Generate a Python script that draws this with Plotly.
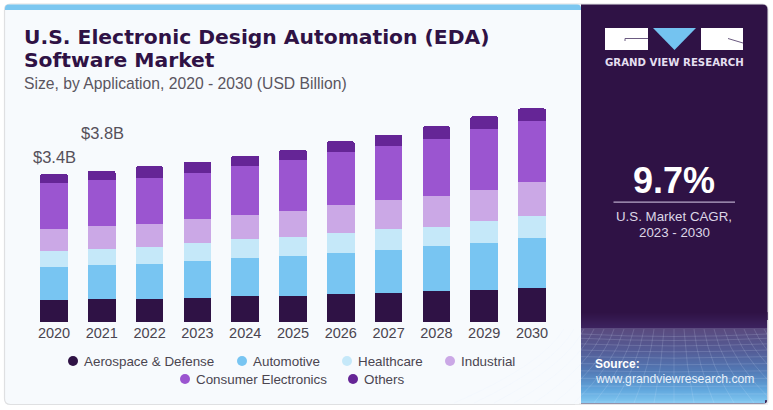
import plotly.graph_objects as go

W, H = 773, 410
years = ["2020","2021","2022","2023","2024","2025","2026","2027","2028","2029","2030"]
aerospace = [.507,.530,.539,.562,.592,.608,.645,.668,.707,.747,.783]
automotive = [.770,.793,.806,.843,.892,.912,.954,1.0,1.044,1.083,1.159]
healthcare = [.353,.369,.376,.408,.422,.438,.461,.468,.447,.491,.507]
industrial = [.507,.521,.546,.553,.569,.608,.636,.668,.698,.721,.767]
consumer = [1.067,1.053,1.060,1.067,1.120,1.159,1.214,1.251,1.329,1.415,1.422]
others = [.200,.214,.260,.253,.230,.237,.253,.263,.283,.283,.283]
names = ["Aerospace & Defense","Automotive","Healthcare","Industrial","Consumer Electronics","Others"]
colors = ["#2f1245","#78c5f2","#c5e8f9","#cba8e6","#9b55d0","#652596"]
series = [aerospace, automotive, healthcare, industrial, consumer, others]

def px(x): return x / W
def py(y): return 1 - y / H
def rrect(x0, y0, x1, y1, r, tl=True, tr=True, br=True, bl=True):
    a, b, c, d = [r if f else 0 for f in (tl, tr, br, bl)]
    X, Y = px, py
    return (f"M{X(x0+a)},{Y(y0)} L{X(x1-b)},{Y(y0)} Q{X(x1)},{Y(y0)} {X(x1)},{Y(y0+b)} "
            f"L{X(x1)},{Y(y1-c)} Q{X(x1)},{Y(y1)} {X(x1-c)},{Y(y1)} L{X(x0+d)},{Y(y1)} "
            f"Q{X(x0)},{Y(y1)} {X(x0)},{Y(y1-d)} L{X(x0)},{Y(y0+a)} Q{X(x0)},{Y(y0)} {X(x0+a)},{Y(y0)} Z")

fig = go.Figure()
for n, c, s in zip(names, colors, series):
    fig.add_trace(go.Bar(x=years, y=s, name=n, marker=dict(color=c, line=dict(width=0)), showlegend=False))

shapes = []
def rect(x0, y0, x1, y1, color, layer="below"):
    shapes.append(dict(type="rect", xref="paper", yref="paper", x0=px(x0), x1=px(x1), y0=py(y0), y1=py(y1),
                       fillcolor=color, line=dict(width=0), layer=layer))
def pth(d, fill=None, line=None, lw=0, layer="below"):
    s = dict(type="path", xref="paper", yref="paper", path=d, layer=layer, line=dict(width=lw, color=line or "rgba(0,0,0,0)"))
    if fill: s["fillcolor"] = fill
    shapes.append(s)

# card
pth(rrect(4.5, 4, 768, 404.5, 6), fill="#f7fafd", line="#dfe0e2", lw=1.2)
pth(rrect(5, 4.5, 581, 10, 4, br=False, bl=False), fill="#7cc7f0")
pth(rrect(581, 4.5, 767.5, 404, 5, tl=False, bl=False), fill="#2f1245")

# gradient of panel foot
stops = [(312, (47,18,69)), (327, (60,34,94)), (328, (90,74,126)), (350, (84,92,150)),
         (370, (82,120,180)), (390, (98,168,222)), (403, (132,202,242))]
def lerp(y):
    for (a, ca), (b, cb) in zip(stops, stops[1:]):
        if a <= y <= b:
            t = (y - a) / (b - a)
            return "rgb(%d,%d,%d)" % tuple(round(p + (q - p) * t) for p, q in zip(ca, cb))
    return "rgb(47,18,69)"
for y in range(312, 403):
    rect(581, y, 765 if y > 399 else 767.5, y + 1.2, lerp(y))
# mesh
for i in range(11):
    y = 334 + 68 * (i / 10) ** 1.2
    d = f"M{px(581)},{py(y)} Q{px(674)},{py(y + 5 - i*.5)} {px(767)},{py(y)}"
    pth(d, line="rgba(225,235,255,0.2)", lw=0.8)
for i in range(-11, 12):
    xt = 674 + i * 10
    xb = 674 + i * 20
    d = f"M{px(xt)},{py(329)} Q{px(xt + i*2)},{py(365)} {px(xb)},{py(403)}"
    pth(d, line="rgba(225,235,255,0.2)", lw=0.8)
rect(768.6, 320, 773, 410, "#ffffff", layer="below")
rect(575, 404.8, 773, 410, "#ffffff", layer="below")
rect(579, 403.4, 768, 404.6, "#e3e4e6", layer="below")
rect(767.2, 320, 768.4, 403, "#e3e4e6", layer="below")

# logo
rect(605, 28, 648, 50, "#ffffff")
pth(f"M{px(625)},{py(41)} L{px(625)},{py(38.5)} L{px(648)},{py(38.5)}", line="#6b5a80", lw=1)
pth(f"M{px(653)},{py(28)} L{px(696)},{py(28)} L{px(674.5)},{py(50)} Z", fill="#74c3f0")
rect(701, 28, 743, 50, "#ffffff")
pth(f"M{px(728)},{py(38.5)} L{px(743)},{py(43)}", line="#6b5a80", lw=1)

# CAGR rule
rect(613.5, 201.5, 735, 202.8, "#b9a9c9")

# legend markers
legend_pos = [(73,361),(242,361),(347,361),(450,361),(185,379),(353,379)]
for (x, y), c in zip(legend_pos, colors):
    shapes.append(dict(type="circle", xref="paper", yref="paper", x0=px(x-5), x1=px(x+5), y0=py(y-5), y1=py(y+5),
                       fillcolor=c, line=dict(width=0), layer="below"))

ann = []
def text(x, y, s, size, color, anchor="left", font="Liberation Sans"):
    ann.append(dict(xref="paper", yref="paper", x=px(x - 2 if anchor == "left" else x), y=py(y), text=s, showarrow=False,
                    xanchor=anchor, yanchor="middle", font=dict(size=size, color=color, family=font)))

text(24, 37, "<b>U.S. Electronic Design Automation (EDA)</b>", 20.3, "#2f1245", font="DejaVu Sans")
text(24, 60, "<b>Software Market</b>", 20.3, "#2f1245", font="DejaVu Sans")
text(24, 84, "Size, by Application, 2020 - 2030 (USD Billion)", 15.7, "#5a5560")
text(54, 157, "$3.4B", 16.5, "#55505a", "center")
text(102, 133, "$3.8B", 16.5, "#55505a", "center")
for (x, y), n in zip(legend_pos, names):
    text(x + 11, y, n, 13.4, "#4a4550")
text(674, 62, "<b>GRAND VIEW RESEARCH</b>", 10.2, "#e4dff0", "center", "DejaVu Sans")
text(674, 181, "<b>9.7%</b>", 36, "#ffffff", "center")
text(674, 216, "U.S. Market CAGR,", 13.3, "#ddd6e6", "center")
text(674, 233, "2023 - 2030", 13.3, "#ddd6e6", "center")
text(595, 364, "<b>Source:</b>", 12, "#ffffff")
text(595, 379, "www.grandviewresearch.com", 12.2, "#e8f2fb")

fig.update_layout(
    width=W, height=H, margin=dict(l=0, r=0, t=0, b=0), autosize=False,
    paper_bgcolor="#ffffff", plot_bgcolor="rgba(0,0,0,0)",
    barmode="stack", bargap=0.42, barcornerradius=2,
    shapes=shapes, annotations=ann,
    xaxis=dict(domain=[px(30.1), px(555.9)], type="category", showgrid=False, showline=False, zeroline=False, ticks="",
               tickfont=dict(size=14.5, color="#4a4550", family="Liberation Sans"), ticklabelstandoff=0),
    yaxis=dict(domain=[py(322), py(100)], range=[0, 222 / 43.4], visible=False),
)
fig.write_html("out.html", post_script="document.body.style.margin='0';", config={"displayModeBar": False})
